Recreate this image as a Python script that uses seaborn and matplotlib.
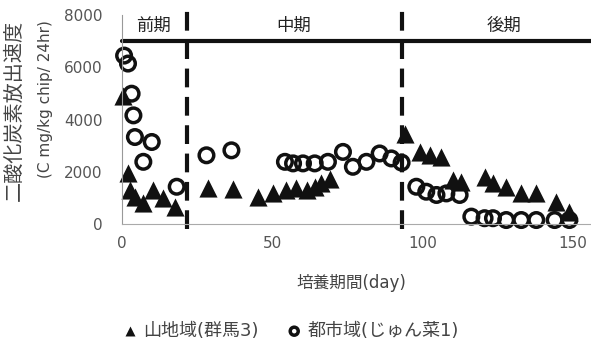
import pandas as pd
import matplotlib.pyplot as plt
import seaborn as sns

sns.set_theme(style="white")
plt.rcParams['font.family'] = ['DejaVu Sans', 'Noto Sans CJK JP']

# 山地域(群馬3) - triangles
tri_day = [0.4, 2.1, 2.7, 4.3, 7.1, 10.4, 13.7, 17.6,
           28.7, 37.0, 45.3, 50.3, 54.7, 58.0, 61.4, 64.1, 66.3, 69.1,
           94.3, 99.0, 102.3, 106.2, 110.0, 112.8, 120.6, 123.4, 127.8,
           132.8, 137.8, 144.4, 148.8]
tri_val = [4920, 1935, 1300, 1040, 790, 1300, 980, 660,
           1360, 1320, 1040, 1170, 1300, 1360, 1300, 1420, 1550, 1740,
           3430, 2760, 2630, 2570, 1680, 1610, 1800, 1550, 1425,
           1170, 1170, 850, 470]

# 都市域(じゅん菜1) - open circles
cir_day = [0.7, 2.0, 3.2, 3.8, 4.3, 7.1, 9.9, 18.2,
           28.1, 36.4, 54.2, 56.9, 60.2, 64.1, 68.5, 73.5, 76.8, 81.3,
           85.7, 89.6, 93.0, 97.9, 101.2, 104.6, 107.9, 112.3,
           116.2, 120.6, 123.4, 127.8, 132.8, 137.8, 143.9, 148.8]
cir_val = [6450, 6145, 4990, 4160, 3330, 2380, 3140, 1425,
           2630, 2820, 2380, 2320, 2320, 2320, 2380, 2760, 2190, 2380,
           2700, 2510, 2350, 1425, 1235, 1110, 1170, 1110,
           280, 220, 220, 150, 150, 150, 150, 150]

period_labels = ["前期", "中期", "後期"]
period_x = [10.6, 57.1, 126.9]
boundaries = [21.6, 93.0]
series_names = ["山地域(群馬3)", "都市域(じゅん菜1)"]

df_tri = pd.DataFrame({"day": tri_day, "rate": tri_val})
df_cir = pd.DataFrame({"day": cir_day, "rate": cir_val})

fig = plt.figure(figsize=(5.91, 3.44), dpi=100)
ax = fig.add_axes([0.2064, 0.349, 0.7936, 0.607])

sns.scatterplot(data=df_tri, x="day", y="rate", marker="^", color="#111111",
                s=170, linewidth=0, ax=ax, label=series_names[0], clip_on=False)
sns.scatterplot(data=df_cir, x="day", y="rate", marker="o", facecolors="none",
                edgecolor="#111111", s=110, linewidth=2.5, ax=ax,
                label=series_names[1], clip_on=False)

ax.axhline(7000, color="#111111", linewidth=3, clip_on=False)
for b in boundaries:
    ax.vlines(b, -200, 8150, colors="#111111", linewidth=3,
              linestyles=(0, (4.5, 2.3)), clip_on=False)
for lab, px in zip(period_labels, period_x):
    ax.text(px, 7600, lab, ha="center", va="center", fontsize=12.5, color="#222222")

ax.set_xlim(0, 156)
ax.set_ylim(0, 8000)
ax.set_xticks([0, 50, 100, 150])
ax.set_yticks([0, 2000, 4000, 6000, 8000])
ax.tick_params(axis="both", labelsize=11, colors="#555555", length=0)
ax.tick_params(axis="y", pad=14)
ax.tick_params(axis="x", pad=9)
for s in ["top", "right"]:
    ax.spines[s].set_visible(False)
ax.spines["left"].set_color("#999999")
ax.spines["left"].set_linewidth(0.8)
ax.spines["bottom"].set_color("#aaaaaa")
ax.spines["bottom"].set_linewidth(0.8)

ax.set_xlabel("培養期間(day)", fontsize=12, color="#444444")
ax.xaxis.set_label_coords((351 - 122) / 469, -0.285)
ax.xaxis.label.set_va("center")
ax.set_ylabel("")
fig.text(0.024, 0.942, "二酸化炭素放出速度", rotation=90, ha="center", va="top",
         fontsize=14.5, color="#444444")
fig.text(0.077, 0.942, "(C mg/kg chip/ 24hr)", rotation=90, ha="center", va="top",
         fontsize=11, color="#444444")

handles, labels = ax.get_legend_handles_labels()
ax.legend_.remove()
fig.legend(handles, labels, loc="center", bbox_to_anchor=(0.49, 0.038), ncol=2,
           frameon=False, fontsize=13, handletextpad=0.2, columnspacing=1.4,
           handlelength=1.1, markerscale=0.55, labelcolor="#444444")

fig.savefig("out.png")
